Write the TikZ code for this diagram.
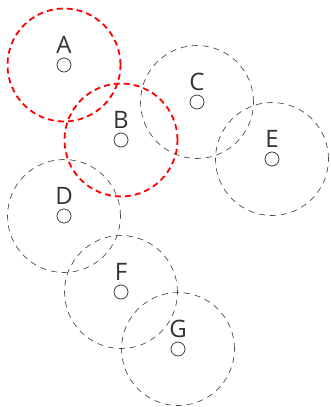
\documentclass[tikz,border=0pt]{standalone}
\usepackage{fontspec}
\setsansfont{Open Sans}
\usetikzlibrary{positioning}

\begin{document}
\begin{tikzpicture}[
  x=1pt, y=-1pt,
  site/.style ={draw=black!75, circle, minimum size=14pt, inner sep=0pt,
                line width=0.8pt},
  zone/.style ={draw=black!70, circle, minimum size=113pt, inner sep=0pt,
                line width=0.7pt, dash pattern=on 6pt off 5pt},
  hot/.style  ={zone, draw=red, line width=1.8pt, dash pattern=on 6pt off 4pt},
  tag/.style  ={font=\sffamily\fontsize{24}{24}\selectfont, text=black!80,
                inner sep=0pt},
]
\useasboundingbox (0,0) rectangle (330,407);

% sites and their ranges
\foreach \n/\x/\y in {A/64/65, B/121/140, C/197/102, D/64/216,
                      E/272/159, F/121/292, G/178/349} {
  \node[site] (\n) at (\x,\y) {};
  \node[tag, above=4pt of \n] (t\n) {\n};
}
\foreach \n in {C,D,E,F,G} \node[zone] (z\n) at (\n) {};
\foreach \n in {A,B} \node[hot] (z\n) at (\n) {};
\end{tikzpicture}
\end{document}
